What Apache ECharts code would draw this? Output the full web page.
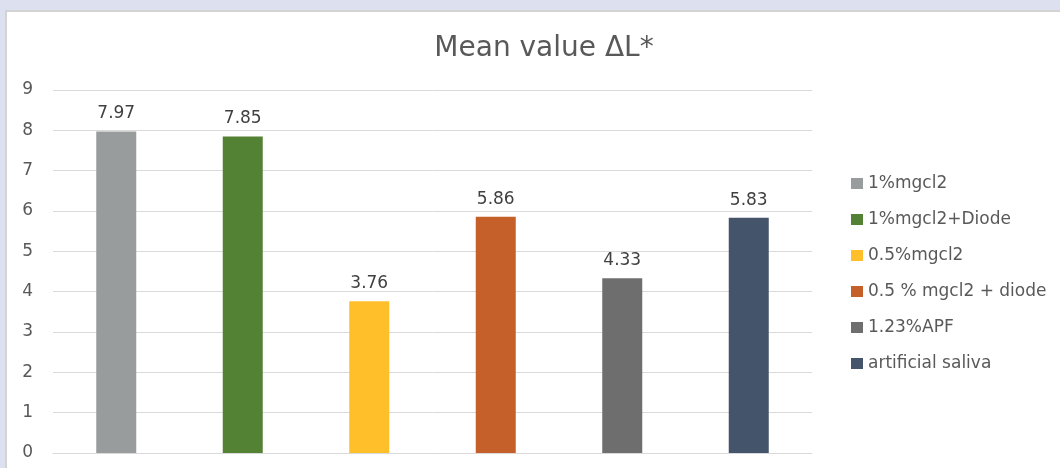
<!DOCTYPE html>
<html>
<head>
<meta charset="utf-8">
<script src="https://cdn.jsdelivr.net/npm/echarts@6/dist/echarts.min.js"></script>
<style>
  html, body { margin: 0; padding: 0; background: #dde0ee; }
  #panel {
    position: absolute; left: 5px; top: 10px; width: 1060px; height: 470px;
    background: #ffffff; border-left: 2px solid #d3d3d3; border-top: 2px solid #d3d3d3;
  }
  #chart { position: absolute; left: 0; top: 0; width: 1060px; height: 468px; }
</style>
</head>
<body>
<div id="panel"></div>
<div id="chart"></div>
<script>
// Treatment groups and their mean ΔL* values
const groups = ['1%mgcl2', '1%mgcl2+Diode', '0.5%mgcl2', '0.5 % mgcl2 + diode', '1.23%APF', 'artificial saliva'];
const meanValues = [7.97, 7.85, 3.76, 5.86, 4.33, 5.83];
const groupColors = ['#999c9c', '#548235', '#ffbf2a', '#c5602a', '#6e6e6e', '#44546a'];
const yTicks = { min: 0, max: 9, interval: 1 };

const FONT = '"DejaVu Sans", "Noto Sans", sans-serif';

// One series per group, each placed on its own slot so the legend lists every group
const series = groups.map((name, i) => ({
  name: name,
  type: 'bar',
  barWidth: 40,
  barGap: '-100%',
  itemStyle: { color: groupColors[i] },
  label: {
    show: true, position: 'top', distance: 9,
    color: '#404040', fontSize: 17, fontFamily: FONT,
    formatter: p => p.value.toFixed(2)
  },
  data: groups.map((_, j) => (j === i ? meanValues[i] : '-'))
}));

const chart = echarts.init(document.getElementById('chart'), null, { renderer: 'canvas' });
chart.setOption({
  backgroundColor: 'transparent',
  animation: false,
  title: {
    text: 'Mean value ΔL*',
    left: 539, top: 30, textAlign: 'center',
    textStyle: { color: '#595959', fontSize: 28, fontWeight: 'normal', fontFamily: FONT }
  },
  legend: {
    orient: 'vertical',
    left: 846, top: 170,
    itemWidth: 12, itemHeight: 11, itemGap: 19,
    icon: 'rect',
    textStyle: { color: '#595959', fontSize: 17, fontFamily: FONT },
    data: groups
  },
  grid: { left: 53, right: 248, top: 90, bottom: 15, containLabel: false },
  xAxis: {
    type: 'category',
    data: groups,
    axisLine: { show: true, lineStyle: { color: '#d9d9d9', width: 1 } },
    axisTick: { show: false },
    axisLabel: { show: false }
  },
  yAxis: {
    type: 'value',
    min: yTicks.min, max: yTicks.max, interval: yTicks.interval,
    axisLine: { show: false },
    axisTick: { show: false },
    axisLabel: { color: '#595959', fontSize: 17, fontFamily: FONT, margin: 20 },
    splitLine: { lineStyle: { color: '#d9d9d9', width: 1 } }
  },
  series: series
});
</script>
</body>
</html>
